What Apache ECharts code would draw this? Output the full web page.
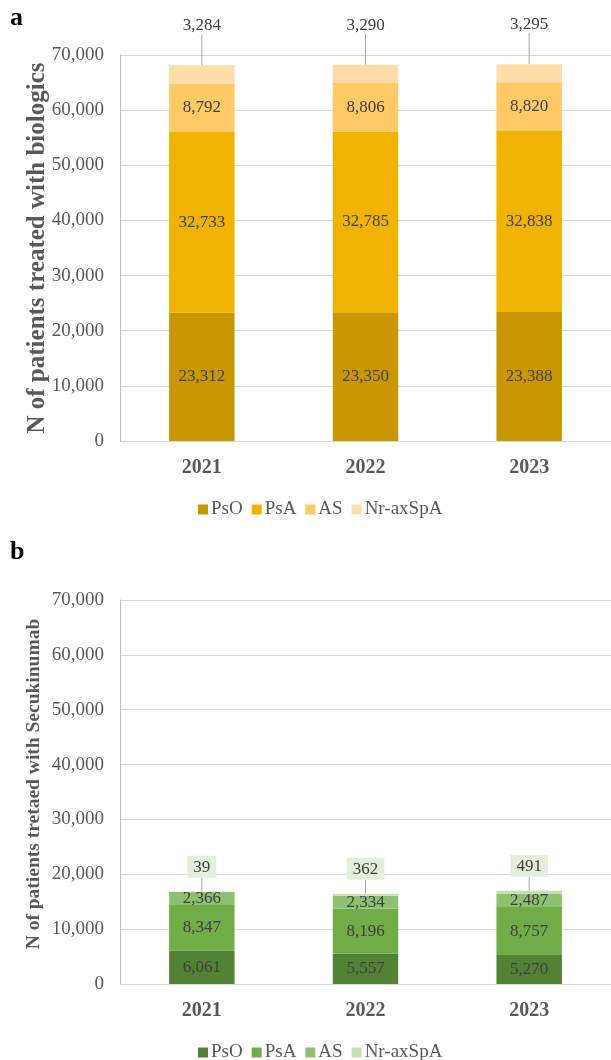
<!DOCTYPE html>
<html>
<head>
<meta charset="utf-8">
<style>
  html, body { margin: 0; padding: 0; background: #ffffff; }
  #chart { width: 611px; height: 1060px; }
</style>
<script src="https://cdn.jsdelivr.net/npm/echarts@6/dist/echarts.min.js"></script>
</head>
<body>
<div id="chart"></div>
<script>
// Patients by indication, per year
const years = ['2021', '2022', '2023'];
const groups = ['PsO', 'PsA', 'AS', 'Nr-axSpA'];

// (a) all biologics
const bioPsO = [23312, 23350, 23388];
const bioPsA = [32733, 32785, 32838];
const bioAS = [8792, 8806, 8820];
const bioNr = [3284, 3290, 3295];

// (b) secukinumab
const secPsO = [6061, 5557, 5270];
const secPsA = [8347, 8196, 8757];
const secAS = [2366, 2334, 2487];
const secNr = [39, 362, 491];

const yTicks = { min: 0, max: 70000, interval: 10000 };

const goldColors = ['#C99700', '#EFB300', '#FFC966', '#FFDCA8'];
const greenColors = ['#548235', '#70AD47', '#8FC072', '#C5DFB4'];

const FONT = '"Liberation Serif", "DejaVu Serif", serif';
const fmt = v => v.toLocaleString('en-US');

function yAxis(gridIndex, name, nameSize, nameGap, namePad) {
  return {
    type: 'value', gridIndex, min: yTicks.min, max: yTicks.max, interval: yTicks.interval,
    name, nameLocation: 'middle', nameGap, nameMoveOverlap: false,
    nameTextStyle: { fontFamily: FONT, fontSize: nameSize, fontWeight: 'bold', color: '#595959',
      padding: namePad },
    axisLine: { show: true, lineStyle: { color: '#bfbfbf', width: 1 } },
    axisTick: { show: false },
    splitLine: { lineStyle: { color: '#d9d9d9', width: 1 } },
    axisLabel: { fontFamily: FONT, fontSize: 19, color: '#595959', margin: 16,
      formatter: v => fmt(v) }
  };
}

function xAxis(gridIndex) {
  return {
    type: 'category', gridIndex, data: years,
    axisLine: { lineStyle: { color: '#d9d9d9' } },
    axisTick: { show: false },
    axisLabel: { fontFamily: FONT, fontSize: 20, fontWeight: 'bold', color: '#595959', margin: 17 }
  };
}

function stackSeries(idx, values, colors, stack, topStyle) {
  return values.map((vals, i) => {
    const isTop = i === values.length - 1;
    const s = {
      name: groups[i], type: 'bar', stack, xAxisIndex: idx, yAxisIndex: idx,
      barWidth: '40%', data: vals,
      itemStyle: { color: colors[i] },
      label: {
        show: true, position: 'inside', fontFamily: FONT, fontSize: 17, color: '#404040',
        formatter: p => fmt(p.value)
      }
    };
    if (isTop) {
      s.label = Object.assign(s.label, { position: 'top', distance: 4 }, topStyle.label);
      s.labelLayout = { dy: topStyle.dy };
      s.labelLine = { show: true, lineStyle: { color: '#a6a6a6', width: 1 } };
    }
    return s;
  });
}

function legend(top, colors) {
  return {
    top, left: 193, selectedMode: false, icon: 'rect',
    itemWidth: 10, itemHeight: 10, itemGap: 9,
    textStyle: { fontFamily: FONT, fontSize: 19, color: '#595959', padding: [0, 0, 0, -2] },
    data: groups.map((g, i) => ({ name: g, itemStyle: { color: colors[i] } }))
  };
}

const chart = echarts.init(document.getElementById('chart'), null, { renderer: 'canvas' });
chart.setOption({
  backgroundColor: '#ffffff',
  animation: false,
  graphic: [
    { type: 'text', left: 10, top: 5, style: { text: 'a', font: 'bold 26px ' + FONT, fill: '#000' } },
    { type: 'text', left: 10, top: 539, style: { text: 'b', font: 'bold 26px ' + FONT, fill: '#000' } }
  ],
  grid: [
    { left: 120, right: -4, top: 55, height: 386 },
    { left: 120, right: -4, top: 600, height: 384 }
  ],
  legend: [legend(495, goldColors), legend(1038, greenColors)],
  xAxis: [xAxis(0), xAxis(1)],
  yAxis: [
    yAxis(0, 'N of patients treated with biologics', 25, 70, [0, 0, 0, 0]),
    yAxis(1, 'N of patients tretaed with Secukinumab', 19.5, 76, [0, 0, 0, 16])
  ],
  series: [
    ...stackSeries(0, [bioPsO, bioPsA, bioAS, bioNr], goldColors, 'bio',
      { dy: -27, label: {} }),
    ...stackSeries(1, [secPsO, secPsA, secAS, secNr], greenColors, 'sec',
      { dy: -10, label: { backgroundColor: '#E2EFDA', padding: [3, 6, 2, 6] } })
  ]
});
</script>
</body>
</html>
